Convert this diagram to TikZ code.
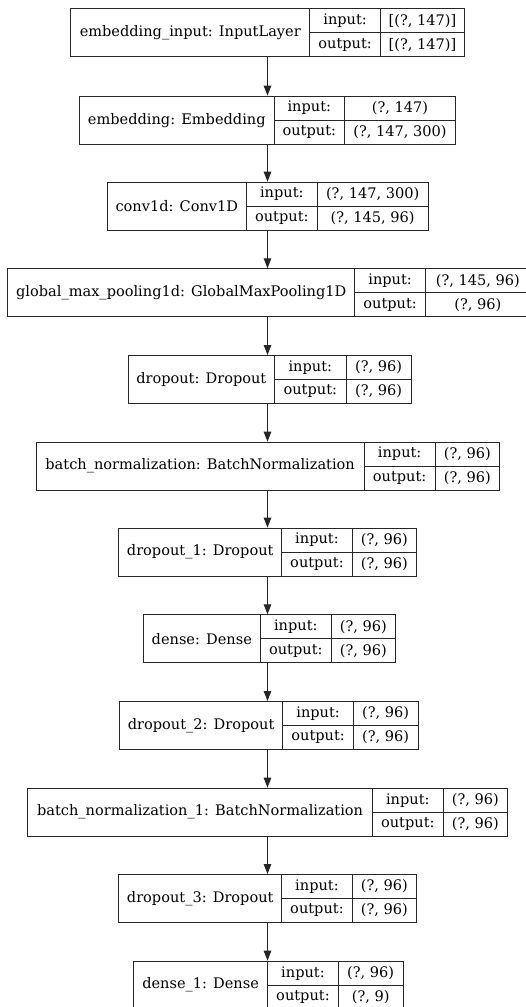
\documentclass[tikz,border=0pt]{standalone}
\usepackage{fontspec}
\setmainfont{DejaVu Serif}
\usetikzlibrary{arrows.meta}
\tikzset{
  cell/.style={draw=black!85, line width=0.9pt, inner sep=0pt, rectangle, font=\fontsize{14.55}{16}\selectfont},
  arr/.style={draw=black!85, line width=0.9pt, -{Triangle[length=10pt,width=7.5pt]}}
}
\newcommand\layer[9]{%
  \pgfmathsetmacro\wa{#4-#3}\pgfmathsetmacro\wb{#5-#4}\pgfmathsetmacro\wc{#6-#5}%
  \node[cell, minimum width=\wa pt, minimum height=48pt, anchor=north west] (#1) at (#3,#2) {#7};
  \node[cell, minimum width=\wb pt, minimum height=24pt, anchor=north west] (#1-il) at (#4,#2) {input:};
  \node[cell, minimum width=\wb pt, minimum height=24pt, anchor=north west] (#1-ol) at ({#4},{#2+24}) {output:};
  \node[cell, minimum width=\wc pt, minimum height=24pt, anchor=north west] (#1-iv) at (#5,#2) {#8};
  \node[cell, minimum width=\wc pt, minimum height=24pt, anchor=north west] (#1-ov) at ({#5},{#2+24}) {#9};
  \coordinate (#1-top) at (267.5,#2);
  \coordinate (#1-bot) at ({267.5},{#2+48});
}
\begin{document}
\begin{tikzpicture}[x=1pt,y=-1pt]
\path[use as bounding box] (0,0) rectangle (526,1007);
\clip (0,0) rectangle (526,1007);
\fill[white] (0,0) rectangle (526,1007);
\layer{L1}{8.3}{70.3}{309.3}{380}{464}{embedding\_input: InputLayer}{[(?, 147)]}{[(?, 147)]}
\layer{L2}{95.7}{79}{273.7}{344}{455}{embedding: Embedding}{(?, 147)}{(?, 147, 300)}
\layer{L3}{181.7}{106.7}{246}{316.7}{427.7}{conv1d: Conv1D}{(?, 147, 300)}{(?, 145, 96)}
\layer{L4}{268.3}{7.3}{354.3}{425}{530}{global\_max\_pooling1d: GlobalMaxPooling1D}{(?, 145, 96)}{(?, 96)}
\layer{L5}{355}{127.7}{274}{345.7}{410.7}{dropout: Dropout}{(?, 96)}{(?, 96)}
\layer{L6}{441.7}{35.7}{363.7}{434.7}{499}{batch\_normalization: BatchNormalization}{(?, 96)}{(?, 96)}
\layer{L7}{527.7}{118.3}{281.3}{351.7}{416.3}{dropout\_1: Dropout}{(?, 96)}{(?, 96)}
\layer{L8}{614.3}{142.7}{260}{330.7}{395.3}{dense: Dense}{(?, 96)}{(?, 96)}
\layer{L9}{701}{119}{282.3}{353}{417.5}{dropout\_2: Dropout}{(?, 96)}{(?, 96)}
\layer{L10}{787.7}{27.3}{372}{442.7}{507.3}{batch\_normalization\_1: BatchNormalization}{(?, 96)}{(?, 96)}
\layer{L11}{874}{118.3}{281.3}{351.7}{416.3}{dropout\_3: Dropout}{(?, 96)}{(?, 96)}
\layer{L12}{960.7}{133.3}{267}{338}{402.5}{dense\_1: Dense}{(?, 96)}{(?, 9)}
\draw[arr] (L1-bot) -- (L2-top);
\draw[arr] (L2-bot) -- (L3-top);
\draw[arr] (L3-bot) -- (L4-top);
\draw[arr] (L4-bot) -- (L5-top);
\draw[arr] (L5-bot) -- (L6-top);
\draw[arr] (L6-bot) -- (L7-top);
\draw[arr] (L7-bot) -- (L8-top);
\draw[arr] (L8-bot) -- (L9-top);
\draw[arr] (L9-bot) -- (L10-top);
\draw[arr] (L10-bot) -- (L11-top);
\draw[arr] (L11-bot) -- (L12-top);
\end{tikzpicture}
\end{document}
